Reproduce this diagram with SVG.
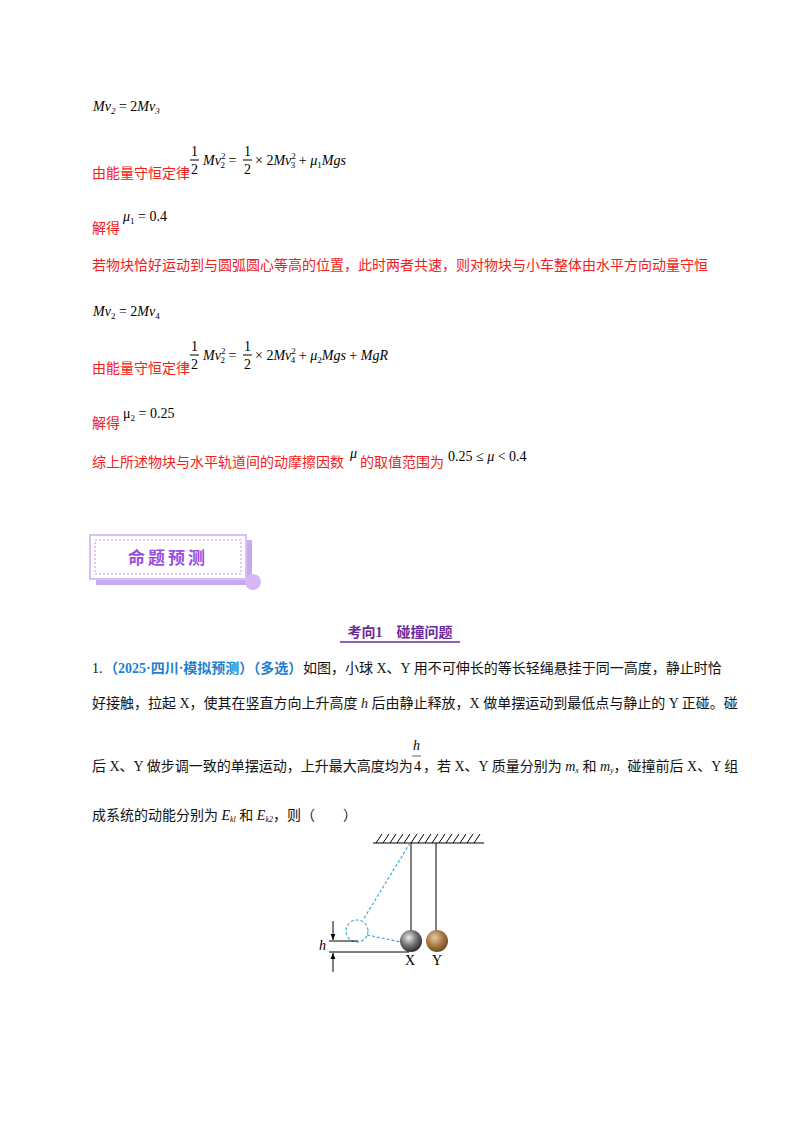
<svg xmlns="http://www.w3.org/2000/svg" width="800" height="1132" viewBox="0 0 800 1132">
<defs>
<style>
.r{font-family:"Liberation Serif","Noto Sans CJK SC",serif;font-size:14px;fill:#f02020}
.m{font-family:"Liberation Serif",serif;font-size:14px;font-style:italic;fill:#000}
.n{font-family:"Liberation Serif",serif;font-size:14px;fill:#000}
.s{font-size:9px}
.t{font-family:"Liberation Serif","Noto Sans CJK SC",serif;font-size:14px;fill:#111}
.b{font-family:"Liberation Serif","Noto Sans CJK SC",serif;font-size:14px;fill:#1f7fd0;font-weight:bold}
.dash{stroke:#3ab0d8;stroke-width:1.2;stroke-dasharray:3,2;fill:none}
</style>
<radialGradient id="gx" cx="0.4" cy="0.35" r="0.7"><stop offset="0" stop-color="#eee"/><stop offset="0.5" stop-color="#777"/><stop offset="1" stop-color="#222"/></radialGradient>
<radialGradient id="gy" cx="0.4" cy="0.35" r="0.7"><stop offset="0" stop-color="#e8c8a0"/><stop offset="0.6" stop-color="#a0703c"/><stop offset="1" stop-color="#6a4520"/></radialGradient>
<marker id="ar" viewBox="0 0 10 10" refX="10" refY="5" markerWidth="6" markerHeight="6" orient="auto"><path d="M0,1L10,5L0,9z" fill="#000"/></marker>
</defs>
<rect width="800" height="1132" fill="#fff"/>
<g id="text">
<text x="93" y="111" class="m">Mv<tspan class="s" dy="3">2</tspan><tspan dy="-3" font-style="normal"> = 2</tspan>Mv<tspan class="s" dy="3">3</tspan></text>
<text x="92" y="178" class="r">由能量守恒定律</text>
<text x="191" y="156" class="n">1</text><line x1="190" y1="160" x2="199" y2="160" stroke="#000"/><text x="191" y="174" class="n">2</text>
<text x="203" y="165" class="m">Mv<tspan class="s" dy="-6" font-style="normal">2</tspan><tspan class="s" dx="-5" dy="9" font-style="normal">2</tspan><tspan dy="-3" font-style="normal"> = </tspan></text>
<text x="244" y="156" class="n">1</text><line x1="243" y1="160" x2="252" y2="160" stroke="#000"/><text x="244" y="174" class="n">2</text>
<text x="255" y="165" class="m"><tspan font-style="normal">× 2</tspan>Mv<tspan class="s" dy="-6" font-style="normal">2</tspan><tspan class="s" dx="-5" dy="9" font-style="normal">3</tspan><tspan dy="-3" font-style="normal"> + </tspan>μ<tspan class="s" dy="3" font-style="normal">1</tspan><tspan dy="-3">Mgs</tspan></text>
<text x="92" y="233" class="r">解得</text>
<text x="123" y="221" class="m">μ<tspan class="s" dy="3" font-style="normal">1</tspan><tspan dy="-3" font-style="normal"> = 0.4</tspan></text>
<text x="92" y="270" class="r">若物块恰好运动到与圆弧圆心等高的位置，此时两者共速，则对物块与小车整体由水平方向动量守恒</text>
<text x="93" y="316" class="m">Mv<tspan class="s" dy="3" font-style="normal">2</tspan><tspan dy="-3" font-style="normal"> = 2</tspan>Mv<tspan class="s" dy="3" font-style="normal">4</tspan></text>
<text x="92" y="373" class="r">由能量守恒定律</text>
<text x="191" y="351" class="n">1</text><line x1="190" y1="355" x2="199" y2="355" stroke="#000"/><text x="191" y="369" class="n">2</text>
<text x="203" y="360" class="m">Mv<tspan class="s" dy="-6" font-style="normal">2</tspan><tspan class="s" dx="-5" dy="9" font-style="normal">2</tspan><tspan dy="-3" font-style="normal"> = </tspan></text>
<text x="244" y="351" class="n">1</text><line x1="243" y1="355" x2="252" y2="355" stroke="#000"/><text x="244" y="369" class="n">2</text>
<text x="255" y="360" class="m"><tspan font-style="normal">× 2</tspan>Mv<tspan class="s" dy="-6" font-style="normal">2</tspan><tspan class="s" dx="-5" dy="9" font-style="normal">4</tspan><tspan dy="-3" font-style="normal"> + </tspan>μ<tspan class="s" dy="3" font-style="normal">2</tspan><tspan dy="-3">Mgs</tspan><tspan font-style="normal"> + </tspan>MgR</text>
<text x="92" y="428" class="r">解得</text>
<text x="123" y="418" class="n">μ<tspan class="s" dy="3">2</tspan><tspan dy="-3"> = 0.25</tspan></text>
<text x="92" y="467" class="r">综上所述物块与水平轨道间的动摩擦因数</text>
<text x="350" y="458" class="m">μ</text>
<text x="360" y="467" class="r">的取值范围为</text>
<text x="448" y="461" class="n">0.25 ≤ <tspan font-style="italic">μ</tspan> &lt; 0.4</text>
</g>
<g id="banner">
<rect x="96" y="540" width="156" height="45" fill="#c8a8f0"/>
<rect x="90" y="535" width="156" height="44" fill="#fff" stroke="#d6c0f4" stroke-width="2"/>
<rect x="95" y="540" width="146" height="34" fill="none" stroke="#b898e8" stroke-width="1" stroke-dasharray="2,2"/>
<circle cx="253" cy="582" r="8" fill="#d8b8f4"/>
<text x="168" y="564" text-anchor="middle" font-family="Noto Sans CJK SC,sans-serif" font-size="17" font-weight="bold" fill="#9a4ee0" letter-spacing="3">命题预测</text>
</g>
<g id="heading">
<text x="400" y="637" text-anchor="middle" font-family="Liberation Serif,Noto Sans CJK SC,serif" font-size="14" font-weight="bold" fill="#6a2a9a">考向1　碰撞问题</text>
<line x1="340" y1="642" x2="460" y2="642" stroke="#6a2a9a" stroke-width="1.5"/>
</g>
<g id="question">
<text x="92" y="673" class="t">1.</text>
<text x="104" y="673" class="b">（2025·四川·模拟预测）（多选）</text>
<text x="303" y="673" class="t">如图，小球 X、Y 用不可伸长的等长轻绳悬挂于同一高度，静止时恰</text>
<text x="92" y="708" class="t">好接触，拉起 X，使其在竖直方向上升高度 <tspan font-style="italic">h</tspan> 后由静止释放，X 做单摆运动到最低点与静止的 Y 正碰。碰</text>
<text x="92" y="771" class="t">后 X、Y 做步调一致的单摆运动，上升最大高度均为</text>
<text x="413" y="750" class="m">h</text><line x1="412" y1="756" x2="421" y2="756" stroke="#000" stroke-width="0.6"/><text x="414" y="771" class="n" font-size="12">4</text>
<text x="423" y="771" class="t">，若 X、Y 质量分别为 <tspan font-style="italic">m<tspan font-size="8" dy="2">x</tspan><tspan dy="-2" font-style="normal"> 和 </tspan>m<tspan font-size="8" dy="2">y</tspan></tspan><tspan dy="-2">，碰撞前后 X、Y 组</tspan></text>
<text x="92" y="820" class="t">成系统的动能分别为 <tspan font-style="italic">E<tspan font-size="8" dy="2">kl</tspan></tspan><tspan dy="-2"> 和 </tspan><tspan font-style="italic">E<tspan font-size="8" dy="2">k2</tspan></tspan><tspan dy="-2">，则（　　）</tspan></text>
</g>
<g id="figure">
<line x1="373" y1="843" x2="484" y2="843" stroke="#000" stroke-width="1.2"/>
<path d="M376,843l6,-9M383,843l6,-9M390,843l6,-9M397,843l6,-9M404,843l6,-9M411,843l6,-9M418,843l6,-9M425,843l6,-9M432,843l6,-9M439,843l6,-9M446,843l6,-9M453,843l6,-9M460,843l6,-9M467,843l6,-9M474,843l6,-9" stroke="#000" stroke-width="1"/>
<line x1="411" y1="843" x2="411" y2="931" stroke="#000" stroke-width="1"/>
<line x1="436" y1="843" x2="436" y2="931" stroke="#000" stroke-width="1"/>
<line x1="410" y1="843" x2="363" y2="920" class="dash"/>
<circle cx="357" cy="931" r="11" class="dash"/>
<line x1="367" y1="935" x2="401" y2="942" class="dash"/>
<circle cx="411" cy="941" r="11" fill="url(#gx)"/>
<circle cx="437" cy="941" r="11" fill="url(#gy)"/>
<line x1="329" y1="941" x2="358" y2="941" stroke="#000"/>
<line x1="329" y1="952" x2="409" y2="952" stroke="#000"/>
<line x1="333" y1="921" x2="333" y2="940" stroke="#000" marker-end="url(#ar)"/>
<line x1="333" y1="972" x2="333" y2="953" stroke="#000" marker-end="url(#ar)"/>
<text x="319" y="950" class="m" font-size="13">h</text>
<text x="405" y="965" class="n" font-family="Liberation Sans,sans-serif" font-size="12">X</text>
<text x="432" y="965" class="n" font-family="Liberation Sans,sans-serif" font-size="12">Y</text>
</g>
</svg>
